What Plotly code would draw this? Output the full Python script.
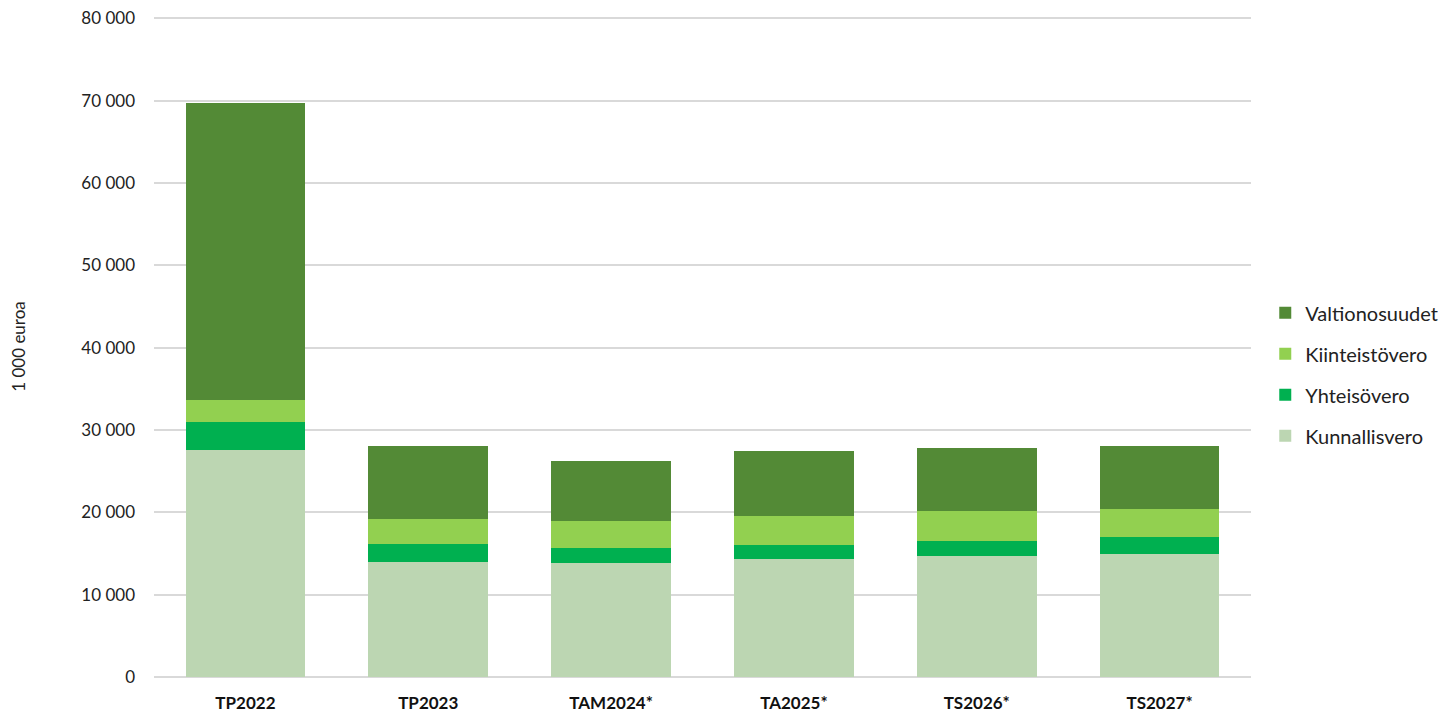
import plotly.graph_objects as go

categories = ["TP2022", "TP2023", "TAM2024*", "TA2025*", "TS2026*", "TS2027*"]
kunnallisvero = [27560, 14020, 13820, 14310, 14710, 14950]
yhteisovero = [3440, 2150, 1830, 1740, 1860, 2035]
kiinteistovero = [2680, 3000, 3320, 3560, 3570, 3405]
valtionosuudet = [36110, 8915, 7250, 7905, 7660, 7695]

tick_vals = [0, 10000, 20000, 30000, 40000, 50000, 60000, 70000, 80000]
tick_text = ["0", "10 000", "20 000", "30 000", "40 000", "50 000", "60 000", "70 000", "80 000"]

series = [
    ("Kunnallisvero", kunnallisvero, "#bcd6b2", 4),
    ("Yhteisövero", yhteisovero, "#00b050", 3),
    ("Kiinteistövero", kiinteistovero, "#92d050", 2),
    ("Valtionosuudet", valtionosuudet, "#538a36", 1),
]

fig = go.Figure()
for name, vals, col, rank in series:
    fig.add_trace(go.Bar(
        x=categories, y=vals, name=name, legendgroup=name, legendrank=rank,
        marker=dict(color=col, line=dict(width=0)),
    ))

fig.update_layout(
    barmode="stack",
    bargap=0.345,
    width=1450, height=713,
    margin=dict(l=146, r=207, t=8, b=44),
    plot_bgcolor="white", paper_bgcolor="white",
    font=dict(family="Lato, Open Sans, sans-serif", size=17, color="#222222"),
    legend=dict(
        traceorder="grouped", tracegroupgap=12,
        x=1.013, y=0.458, xanchor="left", yanchor="middle",
        font=dict(size=20, color="#222222"),
        itemwidth=30,
    ),
    xaxis=dict(
        automargin=False,
        tickfont=dict(size=17, color="#111111", family="Lato, Open Sans, sans-serif"),
        ticks="", showline=False, ticklabelstandoff=14,
        tickprefix="<b>", ticksuffix="</b>",
    ),
    yaxis=dict(
        automargin=False,
        range=[0, 80300],
        tickvals=tick_vals, ticktext=tick_text,
        ticklabeloverflow="allow",
        showgrid=True, gridcolor="#d9d9d9", gridwidth=1.5,
        zeroline=True, zerolinecolor="#d9d9d9", zerolinewidth=1.5,
        ticks="", ticklabelstandoff=18,
        tickfont=dict(size=17, color="#222222"),
        title=dict(text="1 000 euroa", font=dict(size=17, color="#222222"), standoff=52),
    ),
)

fig.write_html("out.html")
